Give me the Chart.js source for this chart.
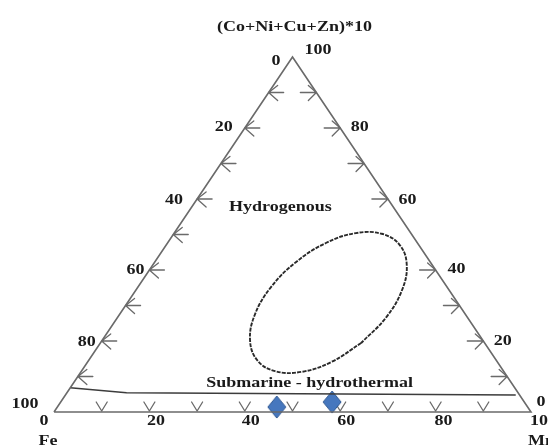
<!DOCTYPE html>
<html>
<head>
<meta charset="utf-8">
<script src="https://cdn.jsdelivr.net/npm/chart.js@4/dist/chart.umd.min.js"></script>
<style>
  html, body { margin: 0; padding: 0; background: #fff; }
  canvas { display: block; }
</style>
</head>
<body>
<canvas id="ternary" width="548" height="445"></canvas>
<script>
// Compositions in % (Fe + Mn + (Co+Ni+Cu+Zn)*10 = 100)
const cornerFe = 'Fe';
const cornerMn = 'Mn';
const cornerTrace = '(Co+Ni+Cu+Zn)*10';

// labelled values along every side
const axisLabels = [0, 20, 40, 60, 80, 100];
// tick marks along each side
const feTicks = [10, 20, 30, 40, 50, 60, 70, 80, 90];
const traceTicks = [10, 20, 30, 40, 60, 70, 80, 90];
const mnTicks = [10, 20, 30, 40, 50, 60, 70, 80, 90];

// analysed samples
const sampleFe = [52.6, 40.3];
const sampleMn = [46.0, 56.9];
const sampleTrace = [1.4, 2.8];

// outline of the hydrogenous field (Mn %, trace %)
const fieldMn = [54.7, 51.1, 46.2, 40.6, 35.3, 31.0, 28.4, 27.9, 29.6, 33.2, 38.1, 43.6, 48.9, 53.2, 55.8, 56.3, 54.7];
const fieldTrace = [19.5, 14.1, 11.3, 11.5, 14.6, 20.2, 27.4, 35.1, 42.2, 47.6, 50.4, 50.2, 47.1, 41.5, 34.3, 26.6, 19.5];

// upper limit of the submarine-hydrothermal field (Mn %, trace %)
const boundaryMn = [0, 12.5, 94.4];
const boundaryTrace = [6.8, 5.4, 4.8];

// field names and where they sit (Mn %, trace %)
const fieldNames = ['Hydrogenous', 'Submarine - hydrothermal'];
const fieldNameMn = [18.6, 49.5];
const fieldNameTrace = [57.7, 8.2];

// ternary -> plot plane (Fe corner at origin, Mn corner at x = 100, trace apex on top)
const toXY = (mn, trace) => ({ x: mn + trace / 2, y: trace });

// label placement in pixels relative to their axis point
const feLabelShift = { 0: [-16.5, 4], 20: [-21, -1], 40: [-23, 1], 60: [-14, 0.5], 80: [-15, 1], 100: [-29, -8] };
const traceLabelShift = { 0: [10, -9.5], 20: [19.5, 0], 40: [21, -1], 60: [19.5, 1.5], 80: [19.5, -1], 100: [25.5, -7] };
const mnLabelShift = { 0: [-10, 9], 20: [6.5, 9], 40: [6, 9], 60: [6, 9], 80: [8, 9], 100: [12.5, 9] };

const LINE = '#6a6a6a';
const INK = '#1a1a1a';
const FONT_SIZE = 15;
const STRETCH = 1.2;

// diamond marker
function makeDiamond() {
  const c = document.createElement('canvas');
  c.width = 20; c.height = 24;
  const g = c.getContext('2d');
  g.beginPath();
  g.moveTo(10, 1); g.lineTo(19, 12); g.lineTo(10, 23); g.lineTo(1, 12); g.closePath();
  g.fillStyle = '#4677be';
  g.fill();
  g.lineWidth = 1;
  g.strokeStyle = '#2d5690';
  g.stroke();
  return c;
}

function text(ctx, str, x, y, align) {
  ctx.save();
  ctx.translate(x, y);
  ctx.scale(STRETCH, 1);
  ctx.font = `bold ${FONT_SIZE}px "Liberation Serif", "Times New Roman", serif`;
  ctx.fillStyle = INK;
  ctx.textAlign = align || 'center';
  ctx.textBaseline = 'middle';
  ctx.fillText(str, 0, 0);
  ctx.restore();
}

const ternaryDecor = {
  id: 'ternaryDecor',
  beforeDatasetsDraw(chart) {
    const { ctx, scales: { x, y } } = chart;
    const px = (mn, trace) => {
      const p = toXY(mn, trace);
      return { x: x.getPixelForValue(p.x), y: y.getPixelForValue(p.y) };
    };
    ctx.save();
    ctx.strokeStyle = LINE;
    ctx.lineWidth = 1.3;
    ctx.lineCap = 'round';
    const seg = (a, b, c, d) => { ctx.moveTo(a, b); ctx.lineTo(c, d); };
    ctx.beginPath();
    // Fe side: arrows pointing out to the left
    feTicks.forEach(v => {
      const p = px(0, 100 - v);
      seg(p.x, p.y, p.x + 15, p.y);
      seg(p.x, p.y, p.x + 9, p.y - 7);
      seg(p.x, p.y, p.x + 9, p.y + 8);
    });
    // trace side: arrows pointing out to the right
    traceTicks.forEach(v => {
      const p = px(100 - v, v);
      seg(p.x, p.y, p.x - 16, p.y);
      seg(p.x, p.y, p.x - 8, p.y - 7);
      seg(p.x, p.y, p.x - 8, p.y + 8);
    });
    // Mn side: V marks resting on the base
    mnTicks.forEach(v => {
      const p = px(v, 0);
      seg(p.x - 5.5, p.y - 10, p.x, p.y - 1);
      seg(p.x, p.y - 1, p.x + 5.5, p.y - 10);
    });
    ctx.stroke();
    ctx.restore();
  },
  afterDatasetsDraw(chart) {
    const { ctx, scales: { x, y } } = chart;
    const px = (mn, trace) => {
      const p = toXY(mn, trace);
      return { x: x.getPixelForValue(p.x), y: y.getPixelForValue(p.y) };
    };
    axisLabels.forEach(v => {
      let p = px(0, 100 - v), s = feLabelShift[v];
      text(ctx, String(v), p.x + s[0], p.y + s[1]);
      p = px(100 - v, v); s = traceLabelShift[v];
      text(ctx, String(v), p.x + s[0], p.y + s[1]);
      p = px(v, 0); s = mnLabelShift[v];
      text(ctx, String(v), p.x + s[0], p.y + s[1]);
    });
    const apex = px(0, 100), feCorner = px(0, 0), mnCorner = px(100, 0);
    text(ctx, cornerTrace, apex.x + 2, apex.y - 29.5);
    text(ctx, cornerFe, feCorner.x - 6, feCorner.y + 29);
    text(ctx, cornerMn, mnCorner.x + 10.5, mnCorner.y + 29);
    fieldNames.forEach((n, i) => {
      const p = px(fieldNameMn[i], fieldNameTrace[i]);
      text(ctx, n, p.x, p.y);
    });
  }
};

const frame = [toXY(0, 0), toXY(100, 0), toXY(0, 100), toXY(0, 0)];
const boundary = boundaryMn.map((m, i) => toXY(m, boundaryTrace[i]));
const field = fieldMn.map((m, i) => toXY(m, fieldTrace[i]));
const samples = sampleMn.map((m, i) => Object.assign(toXY(m, sampleTrace[i]), { fe: sampleFe[i] }));

new Chart(document.getElementById('ternary'), {
  type: 'scatter',
  data: {
    datasets: [
      { label: 'frame', data: frame, showLine: true, borderColor: LINE, borderWidth: 1.6, pointRadius: 0, tension: 0, clip: false },
      { label: 'boundary', data: boundary, showLine: true, borderColor: '#3c3c3c', borderWidth: 1.5, pointRadius: 0, tension: 0, clip: false },
      { label: 'Hydrogenous', data: field, showLine: true, borderColor: '#2a2a2a', borderWidth: 1.9, borderDash: [4, 1.2], pointRadius: 0, tension: 0.4, clip: false },
      { label: 'samples', data: samples, showLine: false, pointStyle: makeDiamond(), pointRadius: 10, clip: false }
    ]
  },
  options: {
    responsive: false,
    animation: false,
    events: [],
    layout: { padding: { left: 54, right: 17, top: 57, bottom: 33 } },
    plugins: { legend: { display: false }, tooltip: { enabled: false } },
    scales: {
      x: { type: 'linear', min: 0, max: 100, display: false },
      y: { type: 'linear', min: 0, max: 100, display: false }
    }
  },
  plugins: [ternaryDecor]
});
</script>
</body>
</html>
